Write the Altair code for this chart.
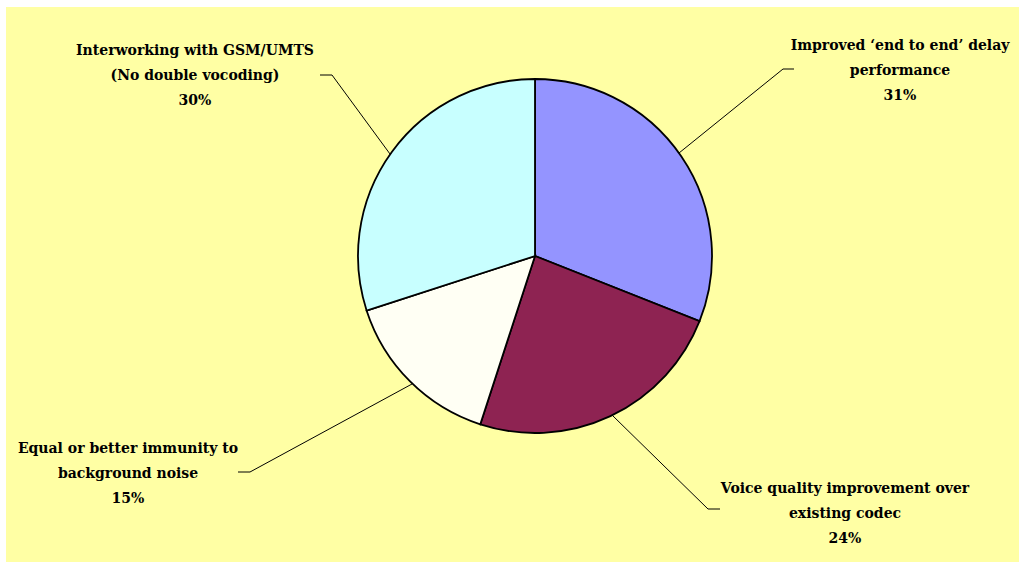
import altair as alt
import pandas as pd

# ---- data ----
categories = [
    "Improved \u2018end to end\u2019 delay performance",
    "Voice quality improvement over existing codec",
    "Equal or better immunity to background noise",
    "Interworking with GSM/UMTS (No double vocoding)",
]
values = [31, 24, 15, 30]
label_lines = [
    ["Improved \u2018end to end\u2019 delay", "performance", "31%"],
    ["Voice quality improvement over", "existing codec", "24%"],
    ["Equal or better immunity to", "background noise", "15%"],
    ["Interworking with GSM/UMTS", "(No double vocoding)", "30%"],
]
colors = ["#9494FF", "#8E2352", "#FFFFF4", "#C8FFFF"]

# ---- layout (pixels) ----
W, H = 1019, 562
center_x, center_y, radius = 535, 256, 177
label_center_x = [900, 845, 128, 195]
label_first_y = [46, 489, 449, 51]
line_gap = 25
leaders = [
    [(679, 153), (783, 69), (794, 69)],
    [(613, 416), (708, 509), (720, 509)],
    [(412, 384), (250, 472), (238, 472)],
    [(390, 154), (332, 75), (320, 75)],
]

pie_df = pd.DataFrame({"category": categories, "value": values, "order": list(range(len(values)))})

text_rows = []
for i, lines in enumerate(label_lines):
    for j, t in enumerate(lines):
        text_rows.append({"text": t, "x": label_center_x[i], "y": label_first_y[i] + j * line_gap})
text_df = pd.DataFrame(text_rows)

line_rows = []
for i, pts in enumerate(leaders):
    for k, (px, py) in enumerate(pts):
        line_rows.append({"id": i, "seq": k, "x": px, "y": py})
line_df = pd.DataFrame(line_rows)

xs = alt.Scale(domain=[0, W], range=[0, W])
ys = alt.Scale(domain=[0, H], range=[0, H])

bg = alt.Chart(pd.DataFrame({"a": [0]})).mark_rect(color="#FFFFA4").encode(
    x=alt.value(6), x2=alt.value(W), y=alt.value(7), y2=alt.value(H)
)

pie = alt.Chart(pie_df).mark_arc(outerRadius=radius, stroke="black", strokeWidth=1.8).encode(
    theta=alt.Theta("value:Q", stack=True),
    order=alt.Order("order:Q"),
    color=alt.Color("category:N", scale=alt.Scale(domain=categories, range=colors), legend=None),
    x=alt.value(center_x),
    y=alt.value(center_y),
)

leader = alt.Chart(line_df).mark_line(color="black", strokeWidth=1).encode(
    x=alt.X("x:Q", scale=xs, axis=None),
    y=alt.Y("y:Q", scale=ys, axis=None),
    detail="id:N",
    order="seq:Q",
)

labels = alt.Chart(text_df).mark_text(
    font="DejaVu Serif", fontWeight="bold", fontSize=14, color="black",
    align="center", baseline="middle",
).encode(
    x=alt.X("x:Q", scale=xs, axis=None),
    y=alt.Y("y:Q", scale=ys, axis=None),
    text="text:N",
)

chart = alt.layer(bg, pie, leader, labels).properties(
    width=W, height=H, autosize=alt.AutoSizeParams(type="none"), padding=0, background="white"
).configure_view(stroke=None)

chart.save("out.html", embed_options={"renderer": "svg", "actions": False})
